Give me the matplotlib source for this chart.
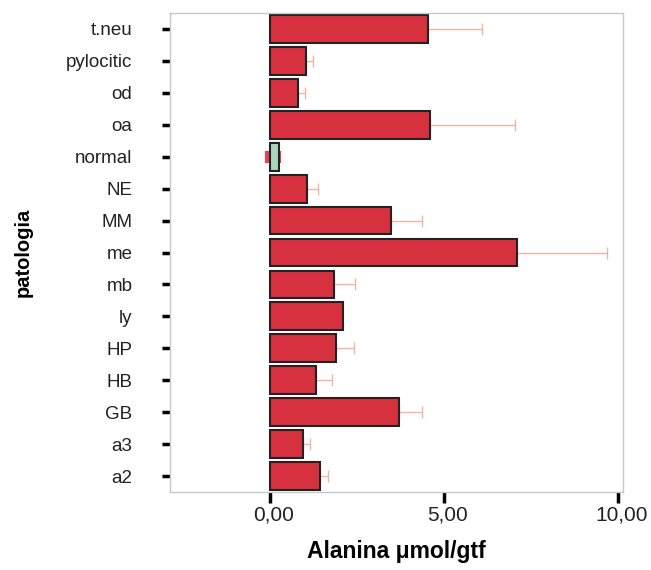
import numpy as np
import matplotlib.pyplot as plt
import matplotlib.transforms as mtransforms

plt.rcParams['font.family'] = ['Liberation Sans', 'DejaVu Sans']

# DATA (bottom to top)
categories = ['a2', 'a3', 'GB', 'HB', 'HP', 'ly', 'mb', 'me', 'MM', 'NE',
              'normal', 'oa', 'od', 'pylocitic', 't.neu']
means = [1.44, 0.94, 3.70, 1.34, 1.89, 2.11, 1.84, 7.10, 3.47, 1.07,
         0.25, 4.60, 0.80, 1.03, 4.55]
err_hi = [1.67, 1.16, 4.37, 1.80, 2.41, np.nan, 2.46, 9.70, 4.36, 1.37,
          np.nan, 7.04, 1.01, 1.24, 6.11]
err_lo_normal = -0.07

bar_colors = ['#d7313f'] * len(categories)
bar_colors[categories.index('normal')] = '#a9d6bb'

# PLOT
fig = plt.figure(figsize=(6.51, 5.70), dpi=100)
ax = fig.add_axes([170 / 651, 1 - 492 / 570, 453 / 651, 479 / 570])

y = np.arange(len(categories))
means = np.array(means)
err_hi = np.array(err_hi)

# error bars (one-sided, drawn behind bars)
mask = ~np.isnan(err_hi)
ax.errorbar(err_hi[mask], y[mask], xerr=[err_hi[mask] - means[mask], np.zeros(mask.sum())],
            fmt='none', ecolor='#f0b4a4', elinewidth=1.0, capsize=4.5, capthick=1.0, zorder=1)
i_n = categories.index('normal')
ax.errorbar([err_lo_normal], [y[i_n]], xerr=[[0], [means[i_n] - err_lo_normal]],
            fmt='none', ecolor='#dc4656', elinewidth=0.5, capsize=4.5, capthick=3.0, zorder=1)

ax.barh(y, means, height=0.87, color=bar_colors, edgecolor='#222222', linewidth=1.5, zorder=2)

ax.set_xlim(-2.87, 10.15)
ax.set_ylim(-0.5, 14.5)
ax.set_xticks([0, 5, 10])
ax.set_xticklabels(['0,00', '5,00', '10,00'], fontsize=15, color='#222222')
ax.set_yticks(y)
ax.set_yticklabels(categories, fontsize=13.5, color='#222222')

ax.tick_params(axis='y', length=6, width=2.5, pad=21, color='black', direction='out')
ax.tick_params(axis='x', length=8, width=2.5, pad=2, color='black', direction='out')

# x tick labels sit a little right of their ticks
shift = mtransforms.ScaledTranslation(4 / 100, 0, fig.dpi_scale_trans)
for lab in ax.get_xticklabels():
    lab.set_transform(lab.get_transform() + shift)

for s in ax.spines.values():
    s.set_color('#c8c8c8')
    s.set_linewidth(1.0)

ax.set_xlabel('Alanina \u03bcmol/gtf', fontsize=16.5, fontweight='bold', labelpad=11)
ax.set_ylabel('patologia', fontsize=14.5, fontweight='bold', labelpad=24)

fig.savefig('out.png', dpi=100)
